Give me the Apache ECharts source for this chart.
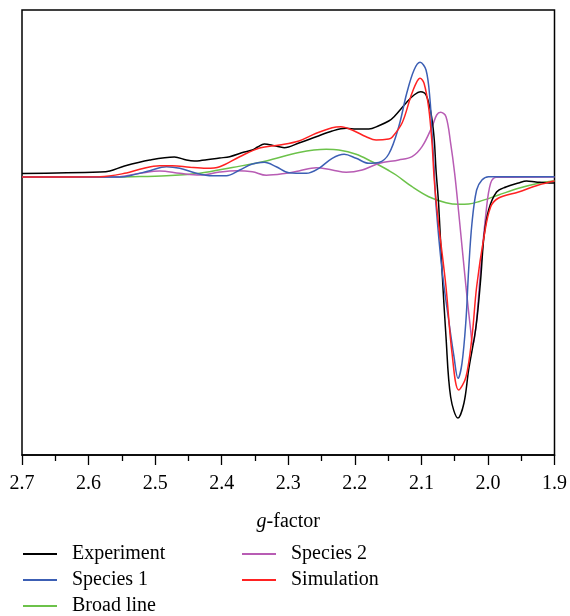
<!DOCTYPE html>
<html>
<head>
<meta charset="utf-8">
<script src="https://cdn.jsdelivr.net/npm/echarts@6/dist/echarts.min.js"></script>
<style>html,body{margin:0;padding:0;background:#fff;}#c{width:570px;height:616px;}</style>
</head>
<body>
<div id="c"></div>
<script>
// g-factor ticks
const gTicks = [2.7, 2.6, 2.5, 2.4, 2.3, 2.2, 2.1, 2.0, 1.9];
const seriesNames = ['Experiment', 'Species 1', 'Broad line', 'Species 2', 'Simulation'];

// [g-factor, intensity (arb. units)]
const experiment = [
  [2.700,3.5],[2.583,5],[2.568,6],[2.546,11],[2.508,17],[2.471,20],[2.453,17],[2.441,16],
  [2.433,16.3],[2.403,19],[2.388,20.3],[2.366,25],[2.354,27],[2.346,30],[2.336,33],[2.321,31.3],
  [2.306,29.3],[2.284,34],[2.258,40.3],[2.234,46],[2.213,48.7],[2.198,48],[2.179,48],[2.164,51.3],
  [2.149,56],[2.141,60.3],[2.123,74],[2.111,82],[2.101,85.3],[2.093,82],[2.086,65.3],[2.081,40.3],
  [2.078,7],[2.074,-28],[2.069,-93],[2.063,-160],[2.056,-220],[2.045,-241],[2.036,-226],
  [2.029,-193],[2.018,-150],[2.011,-103],[2.006,-60],[1.999,-33],[1.987,-15],[1.973,-10],
  [1.954,-6],[1.942,-4],[1.928,-5],[1.904,-6],[1.900,-6]
];
const species1 = [
  [2.700,0],[2.553,0],[2.538,1.3],[2.508,6.3],[2.483,10.3],[2.463,8.7],[2.438,3.7],[2.414,1.3],
  [2.393,1.3],[2.373,7],[2.354,13],[2.336,14.7],[2.318,10.3],[2.299,4.3],[2.273,3.7],[2.254,8.7],
  [2.234,18.7],[2.216,22.7],[2.198,18.7],[2.179,13.7],[2.164,14.5],[2.149,23],[2.134,50.3],
  [2.122,83.7],[2.111,107],[2.102,114.7],[2.093,107],[2.087,77],[2.084,43.7],[2.081,10.3],
  [2.078,-28],[2.069,-93],[2.059,-143],[2.051,-179.7],[2.045,-201.3],[2.039,-186.3],[2.033,-143],
  [2.029,-93],[2.024,-46.3],[2.017,-13],[2.009,-3],[1.999,0.3],[1.900,0.3]
];
const broadLine = [
  [2.700,0],[2.568,0],[2.534,0.3],[2.483,1.3],[2.433,3.7],[2.384,9.5],[2.333,16],[2.284,24.5],
  [2.243,27.7],[2.224,27],[2.198,22.7],[2.174,15.3],[2.164,12],[2.149,6.5],[2.138,2],[2.114,-9.7],
  [2.089,-19.7],[2.063,-25.7],[2.044,-27.3],[2.029,-27],[2.014,-24.7],[1.984,-18],[1.954,-11.3],
  [1.924,-6.3],[1.900,-3.7]
];
const species2 = [
  [2.700,0],[2.561,0],[2.523,3.7],[2.493,6],[2.463,3.7],[2.433,2],[2.403,5],[2.378,6.3],
  [2.354,5.3],[2.333,1.7],[2.303,3.7],[2.284,6],[2.258,9.3],[2.234,7],[2.213,4.7],[2.189,7],
  [2.164,13.5],[2.134,17],[2.114,20.3],[2.099,30.3],[2.084,50.3],[2.077,62],[2.071,64.7],
  [2.063,60.3],[2.056,33.7],[2.050,3.7],[2.044,-35],[2.033,-109.7],[2.026,-153],[2.023,-168],
  [2.018,-149.7],[2.011,-93],[2.003,-36.3],[1.996,-6.3],[1.987,-0.3],[1.900,0]
];
const simulation = [
  [2.700,0],[2.583,0.3],[2.543,4],[2.523,7.7],[2.493,11.3],[2.474,11.3],[2.448,9.7],[2.423,8.7],
  [2.403,10.3],[2.373,20.3],[2.343,29],[2.313,32],[2.284,36],[2.258,43.7],[2.234,49.3],[2.221,50.3],
  [2.204,47],[2.183,40.3],[2.168,37],[2.149,38],[2.144,39.7],[2.129,54],[2.116,80.3],[2.108,93.7],
  [2.102,98.7],[2.096,93.7],[2.089,69],[2.084,33.7],[2.081,0.3],[2.078,-23],[2.074,-48],
  [2.063,-110],[2.054,-176],[2.044,-213],[2.033,-200],[2.024,-160],[2.017,-110],[2.006,-60],
  [1.996,-30],[1.984,-21],[1.954,-15],[1.924,-8],[1.900,-4]
];

const colors = {
  'Experiment': '#000000',
  'Species 1': '#3c5fb4',
  'Broad line': '#6cc24a',
  'Species 2': '#b85cb4',
  'Simulation': '#ff2222'
};
const dataByName = {
  'Experiment': experiment, 'Species 1': species1, 'Broad line': broadLine,
  'Species 2': species2, 'Simulation': simulation
};
const drawOrder = ['Broad line', 'Species 2', 'Experiment', 'Species 1', 'Simulation'];
const serif = '"Liberation Serif", "DejaVu Serif", serif';

const chart = echarts.init(document.getElementById('c'), null, {renderer: 'canvas'});
const legendText = {fontFamily: serif, fontSize: 20, color: '#000', lineHeight: 20, padding: [0, 0, 0, 10]};
chart.setOption({
  animation: false,
  backgroundColor: '#fff',
  grid: {left: 22, right: 14, top: 10, bottom: 161, show: true, borderColor: '#000', borderWidth: 1.5, backgroundColor: 'transparent'},
  xAxis: {
    type: 'value', inverse: true, min: 1.9, max: 2.7, interval: 0.1,
    axisLine: {show: true, onZero: false, lineStyle: {color: '#000', width: 1.5}},
    axisTick: {show: true, inside: false, length: 10, lineStyle: {color: '#000', width: 1.3}},
    minorTick: {show: true, splitNumber: 2, length: 6, lineStyle: {color: '#000', width: 1.3}},
    splitLine: {show: false},
    axisLabel: {margin: 19, fontFamily: serif, fontSize: 20, color: '#000',
      formatter: v => v.toFixed(1)},
    name: '{i|g}-factor', nameLocation: 'middle', nameGap: 57,
    nameTextStyle: {fontFamily: serif, fontSize: 20, color: '#000',
      rich: {i: {fontFamily: serif, fontSize: 20, fontStyle: 'italic', color: '#000'}}}
  },
  yAxis: {
    type: 'value', min: -278, max: 167,
    axisLine: {show: false}, axisTick: {show: false}, axisLabel: {show: false}, splitLine: {show: false}
  },
  legend: [
    {orient: 'vertical', left: 18, top: 539, height: 90, itemWidth: 34, itemHeight: 2, itemGap: 6, icon: 'rect',
      data: ['Experiment', 'Species 1', 'Broad line'], textStyle: legendText, selectedMode: false},
    {orient: 'vertical', left: 237, top: 539, height: 90, itemWidth: 34, itemHeight: 2, itemGap: 6, icon: 'rect',
      data: ['Species 2', 'Simulation'], textStyle: legendText, selectedMode: false}
  ],
  series: drawOrder.map(n => ({
    name: n, type: 'line', data: dataByName[n], showSymbol: false, symbol: 'none',
    smooth: 0.35, lineStyle: {color: colors[n], width: 1.5}, itemStyle: {color: colors[n]}
  }))
});
</script>
</body>
</html>
